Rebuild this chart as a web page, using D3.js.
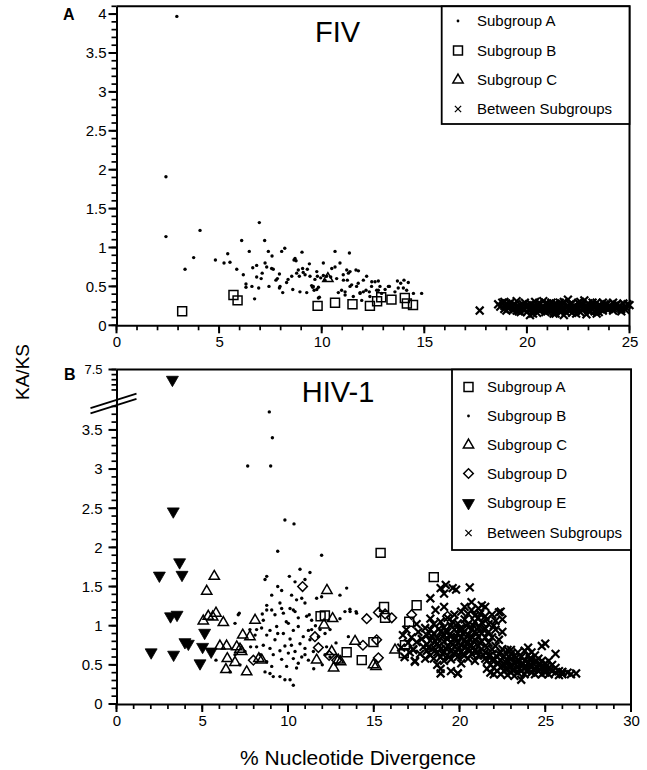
<!DOCTYPE html>
<html><head><meta charset="utf-8">
<script src="https://cdn.jsdelivr.net/npm/d3@7"></script>
<style>body{margin:0;background:#fff}svg{display:block;font-family:"Liberation Sans",Arial,Helvetica,sans-serif}</style>
</head><body><svg id="c" width="647" height="770"></svg>
<script>
// ---------------- DATA ----------------
// Panel A : FIV
const fivXTicks = [0, 5, 10, 15, 20, 25];
const fivYTicks = [0, 0.5, 1, 1.5, 2, 2.5, 3, 3.5, 4];
const fivLegend = ["Subgroup A", "Subgroup B", "Subgroup C", "Between Subgroups"];
const fivSubA = [
[2.94,3.97],[2.41,1.91],[2.41,1.14],[3.34,0.72],[3.76,0.87],[4.07,1.22],[4.82,0.84],[5.24,0.80],[5.42,0.92],[5.53,0.81],[5.86,0.72],[6.10,1.09],[6.18,0.65],[6.31,0.53],[6.31,0.49],[6.47,0.95],[6.60,0.50],[6.64,0.74],[6.83,0.77],[6.73,0.34],[6.83,0.62],[6.93,0.48],[6.96,1.32],[7.05,0.60],[7.10,0.67],[7.22,1.09],[7.24,0.80],[7.32,0.75],[7.43,0.50],[7.40,0.95],[7.58,0.89],[7.56,0.73],[7.64,0.72],[7.77,0.58],[7.84,0.60],[7.94,0.66],[7.94,0.48],[7.97,0.50],[8.05,0.95],[8.10,0.42],[8.20,0.99],[8.29,0.55],[8.36,0.59],[8.54,0.63],[8.59,0.46],[8.65,0.84],[8.70,0.86],[8.75,0.83],[8.78,0.67],[8.86,0.71],[8.91,0.63],[8.94,0.43],[9.04,0.94],[9.07,0.73],[9.10,0.68],[9.19,0.65],[9.27,0.42],[9.30,0.72],[9.40,0.79],[9.43,0.63],[9.51,0.51],[9.56,0.49],[9.63,0.45],[9.67,0.59],[9.76,0.69],[9.79,0.63],[9.84,0.49],[9.89,0.36],[9.95,0.61],[10.08,0.64],[10.16,0.58],[10.24,0.63],
[10.08,0.80],[10.44,0.62],[10.65,0.75],[10.65,0.95],[10.73,0.60],[10.89,0.80],[10.97,0.45],[11.06,0.58],[11.14,0.39],[11.25,0.58],[11.35,0.93],[11.38,0.69],[11.46,0.52],[11.54,0.37],[11.67,0.71],[11.70,0.50],[11.78,0.54],[11.87,0.41],[11.95,0.32],[12.03,0.58],[12.16,0.45],[12.19,0.63],[12.35,0.37],[12.43,0.50],[12.60,0.56],[12.68,0.45],[12.84,0.50],[12.92,0.41],[13.25,0.50],
[10.49,0.73],[11.05,0.65],[11.22,0.71],[11.30,0.67],[11.79,0.70],[12.44,0.56],[12.76,0.57],[13.30,0.50],[13.69,0.57],[13.85,0.54],[14.01,0.58],[14.22,0.55],[13.73,0.48],[14.14,0.45],[14.47,0.41],[14.87,0.41],[11.38,0.50],[11.14,0.43],[12.03,0.43],[12.32,0.43],[10.81,0.42],[9.76,0.46],[9.59,0.50],[9.84,0.35],[12.76,0.45],[13.09,0.46],[13.57,0.43],[13.98,0.48],[11.87,0.42]
];
const fivSubB = [[3.2,0.18],[5.7,0.39],[5.9,0.32],[9.8,0.25],[10.65,0.29],[11.5,0.27],[12.35,0.25],[12.7,0.31],[12.9,0.36],[13.4,0.33],[14.05,0.35],[14.15,0.28],[14.45,0.26]];
const fivSubC = [[10.3,0.60]];
const fivBetween = [
[17.7,0.19],[18.6,0.27],[18.8,0.29],[18.9,0.25],[19.0,0.28],[19.1,0.22],[19.2,0.25],[19.3,0.20],[19.4,0.27],[19.5,0.23],[19.6,0.18],[19.7,0.26],[19.8,0.21],[19.9,0.29],[20.0,0.24],[20.0,0.17],[20.1,0.21],[20.2,0.27],[20.3,0.19],[20.3,0.24],[20.4,0.30],[20.5,0.22],[20.5,0.16],[20.6,0.26],[20.7,0.20],[20.8,0.31],[20.8,0.24],[20.9,0.17],[21.0,0.22],[21.0,0.28],[21.1,0.19],[21.2,0.25],[21.3,0.21],[21.3,0.15],[21.4,0.28],[21.5,0.23],[21.6,0.18],[21.6,0.26],[21.7,0.21],[21.8,0.30],[21.9,0.24],[21.9,0.17],[22.0,0.20],[22.1,0.27],[22.2,0.22],[22.2,0.16],[22.3,0.25],[22.4,0.19],[22.5,0.29],[22.5,0.23],[22.6,0.17],[22.7,0.26],[22.8,0.21],[22.8,0.32],[22.9,0.24],[23.0,0.19],[23.0,0.28],[23.1,0.22],[23.2,0.26],[23.3,0.18],[23.3,0.23],[23.4,0.29],[23.5,0.21],[23.6,0.25],[23.7,0.19],[23.8,0.23],[23.9,0.27],[24.0,0.21],[24.1,0.24],[24.2,0.19],[24.3,0.23],[24.5,0.25],[24.6,0.21],[24.2,0.29],[24.8,0.24],[24.9,0.27],[20.15,0.13],[21.8,0.13],[22.9,0.14],[19.5,0.31],[22.0,0.33],[18.7,0.24],
[19.0,0.19],[19.4,0.21],[19.8,0.27],[20.2,0.20],[20.6,0.19],[21.0,0.18],[21.4,0.20],[21.8,0.22],[22.2,0.28],[22.6,0.24],[23.0,0.23],[23.4,0.19],[23.8,0.27],[24.2,0.22],[24.6,0.18],[24.4,0.27],[23.6,0.21],[22.4,0.22],[21.2,0.29],[20.0,0.26],[19.6,0.24],[19.2,0.29],[18.9,0.21],[20.9,0.21],[22.1,0.19],[23.5,0.26],[24.0,0.25],[24.7,0.28],[25.0,0.26],[19.7,0.22],
[19.1,0.26],[19.3,0.24],[19.5,0.19],[19.9,0.20],[20.1,0.26],[20.4,0.21],[20.7,0.23],[20.9,0.28],[21.1,0.23],[21.5,0.26],[21.7,0.18],[22.0,0.25],[22.3,0.21],[22.7,0.21],[23.1,0.18],[23.2,0.29],[23.5,0.17],[23.9,0.21],[24.3,0.26],[24.8,0.20],[20.6,0.29],[21.6,0.29],[22.6,0.30],[23.7,0.29],[18.9,0.30],[19.7,0.17],[20.3,0.15],[21.4,0.15],[22.4,0.15],[23.4,0.15]
];

// Panel B : HIV-1
const hivXTicks = [0, 5, 10, 15, 20, 25, 30];
const hivYTicks = [0, 0.5, 1, 1.5, 2, 2.5, 3, 3.5];
const hivYTicksUpper = [7.5];
const hivLegend = ["Subgroup A", "Subgroup B", "Subgroup C", "Subgroup D", "Subgroup E", "Between Subgroups"];
const hivSubA = [[15.4,1.93],[18.5,1.62],[15.6,1.24],[17.5,1.26],[17.07,1.05],[16.75,0.65],[14.98,0.79],[14.30,0.56],[13.42,0.66],[11.9,1.12],[12.15,1.13],[15.66,1.10],[16.82,0.75],[19.64,0.94]];
const hivSubB = [
[8.91,3.73],[9.09,3.40],[7.65,3.04],[8.99,3.04],[9.82,2.35],[10.35,2.30],[9.40,1.95],[11.96,1.90],[10.70,1.72],[11.28,1.68],[8.76,1.63],[8.66,1.59],[10.08,1.63],[10.41,1.56],[10.99,1.59],[9.40,1.50],[9.63,1.45],[13.42,1.48],[9.05,1.39],[11.67,1.35],[11.96,1.37],[10.21,1.39],[10.50,1.33],[10.80,1.35],[10.99,1.29],[13.03,1.39],[8.76,1.26],[9.53,1.29],[10.12,1.22],[10.41,1.18],[9.05,1.20],[7.16,1.16],[13.61,1.21],[13.97,1.18],[13.32,1.18],[6.91,1.03],[8.56,1.07],[8.76,1.20],[9.24,1.14],[9.63,1.22],[9.73,1.16],[10.31,1.20],[11.09,1.12],[11.38,1.07],[11.24,1.14],[13.03,1.09],[8.17,0.95],[8.46,0.97],[8.76,0.88],[8.95,0.94],[9.34,0.99],[9.73,0.90],[10.02,1.03],[10.31,0.94],[10.60,0.99],[10.89,0.86],[11.19,0.94],[11.38,0.95],[11.87,0.95],[12.16,0.90],[12.45,0.95],[13.52,0.86],[8.56,0.75],[8.95,0.71],[9.24,0.82],[9.53,0.68],[9.82,0.74],[10.12,0.83],[10.41,0.67],[10.70,0.77],[10.99,0.71],[11.28,0.82],[11.48,0.67],[9.14,0.63],[9.63,0.57],[10.02,0.65],[10.31,0.58],[10.60,0.52],[10.99,0.63],[11.19,0.56],[8.76,0.54],[9.05,0.48],[8.95,0.39],[9.14,0.35],[9.53,0.35],[9.82,0.31],[10.12,0.31],[10.31,0.24],[8.66,0.41],[9.92,0.48],[10.50,0.46],[10.80,0.60],[8.17,0.73],[8.37,0.63],[12.16,0.63],[12.45,0.60],[12.25,0.73],[11.77,0.86],[7.82,0.73],[7.49,0.67],[7.20,0.50],[6.62,0.41],[6.91,0.63],[7.78,0.95],[8.08,0.88],[7.10,1.14],[5.80,0.56],[13.62,1.18],[14.0,1.16],[8.50,1.15],[9.9,1.05],[10.6,1.10],[11.6,1.0],[12.8,0.78],[12.0,0.50],[11.5,0.45],[9.4,0.90],[10.2,0.75]
];
const hivSubC = [[5.70,1.63],[5.26,1.44],[5.06,1.06],[5.35,1.12],[5.80,1.16],[5.61,1.11],[6.23,1.04],[6.03,0.74],[6.42,0.74],[7.01,0.73],[6.46,0.58],[6.91,0.53],[6.38,0.44],[8.08,1.07],[7.36,0.88],[7.78,0.86],[7.20,0.70],[7.30,0.67],[7.59,0.41],[8.47,0.56],[12.27,1.45],[12.6,1.09],[12.1,1.01],[11.67,0.56],[12.66,0.46],[12.93,0.56],[13.91,0.80],[12.55,0.67],[13.07,0.54],[14.98,0.50],[15.13,0.48],[16.24,0.69],[8.3,0.58]];
const hivSubD = [[10.85,1.50],[7.98,0.56],[11.57,0.86],[11.77,0.72],[14.59,1.09],[15.27,1.17],[14.37,0.75],[15.17,0.82],[15.27,0.59],[12.84,0.56],[16.05,1.10],[15.66,1.15],[17.21,1.14],[19.3,1.12],[12.4,0.62]];
const hivSubE = [[3.26,7.3],[3.31,2.46],[2.50,1.64],[3.68,1.81],[3.82,1.65],[3.15,1.12],[3.53,1.14],[2.02,0.66],[3.33,0.63],[3.99,0.79],[4.19,0.77],[5.14,0.91],[5.02,0.73],[5.52,0.67],[4.87,0.52]];
const hivBetween = [
[16.6,0.72],[16.7,0.88],[16.8,0.60],[16.9,0.95],[17.0,0.78],[17.1,0.66],[17.2,0.85],[17.3,0.70],[17.4,0.55],[17.5,1.02],[17.5,0.79],[17.6,0.92],[17.7,0.64],[17.8,0.83],[17.9,0.73],[18.0,0.97],[18.0,0.58],[18.3,1.35],[18.3,1.09],[18.9,1.48],[19.2,1.52],[19.6,1.48],[19.1,1.41],[19.8,1.46],[20.6,1.49],[19.1,1.24],[18.6,1.20],
[18.1,0.68],[18.1,0.88],[18.1,0.76],[18.3,0.62],[18.3,0.81],[18.3,0.95],[18.5,0.72],[18.5,0.90],[18.5,0.58],[18.5,1.02],[18.7,0.66],[18.7,0.84],[18.7,0.77],[18.7,0.50],[18.9,0.92],[18.9,0.70],[18.9,0.60],[18.9,1.05],[18.9,0.45],[19.1,0.80],[19.1,0.66],[19.1,0.98],[19.1,0.88],[19.1,0.55],[19.3,0.74],[19.3,0.92],[19.3,0.62],[19.3,1.10],[19.3,0.83],[19.5,0.68],[19.5,0.86],[19.5,0.79],[19.5,1.00],[19.5,0.57],[19.5,0.42],[19.7,0.95],[19.7,0.73],[19.7,0.64],[19.7,0.84],[19.7,1.14],[19.9,0.78],[19.9,0.90],[19.9,0.60],[19.9,1.03],[19.9,0.70],[19.9,0.39],[20.1,0.85],[20.1,0.67],[20.1,0.97],[20.1,1.18],[20.1,0.75],[20.1,0.52],[20.3,0.72],[20.3,0.93],[20.3,1.08],[20.3,0.62],[20.3,0.82],[20.3,1.24],[20.5,0.88],[20.5,0.70],[20.5,1.02],[20.5,0.58],[20.5,1.15],[20.5,0.78],[20.7,0.95],[20.7,0.75],[20.7,1.20],[20.7,0.64],[20.7,0.86],[20.7,1.30],[20.9,0.82],[20.9,1.05],[20.9,0.68],[20.9,0.92],[20.9,1.13],[20.9,0.55],[21.1,0.98],[21.1,0.74],[21.1,1.22],[21.1,0.86],[21.1,0.62],[21.1,1.10],[21.3,0.90],[21.3,1.04],[21.3,0.70],[21.3,1.26],[21.3,0.80],[21.5,0.85],[21.5,1.12],[21.5,0.66],[21.5,0.96],[21.5,1.24],[21.5,0.58],[21.7,0.78],[21.7,1.02],[21.7,0.62],[21.7,0.92],[21.9,0.70],[21.9,1.14],[21.9,0.85],[21.9,0.56],[22.1,0.95],[22.1,0.74],[22.1,1.06],[22.3,1.17],[22.3,0.82],[22.3,0.64],[22.5,0.92],[22.5,1.08],[22.5,0.70],[22.4,1.18],
[21.6,0.45],[21.6,0.55],[21.8,0.50],[21.8,0.40],[21.8,0.62],[22.0,0.46],[22.0,0.58],[22.0,0.38],[22.2,0.52],[22.2,0.42],[22.2,0.60],[22.4,0.47],[22.4,0.56],[22.4,0.38],[22.4,0.66],[22.6,0.50],[22.6,0.42],[22.6,0.61],[22.8,0.45],[22.8,0.55],[22.8,0.37],[22.8,0.69],[23.0,0.48],[23.0,0.58],[23.0,0.40],[23.0,0.64],[23.2,0.52],[23.2,0.44],[23.2,0.61],[23.2,0.36],[23.4,0.47],[23.4,0.56],[23.4,0.40],[23.4,0.66],[23.6,0.50],[23.6,0.42],[23.6,0.60],[23.6,0.31],[23.8,0.46],[23.8,0.55],[23.8,0.38],[23.8,0.68],[24.0,0.52],[24.0,0.44],[24.0,0.62],[24.0,0.72],[24.2,0.48],[24.2,0.57],[24.2,0.40],[24.2,0.66],[24.4,0.45],[24.4,0.54],[24.4,0.38],[24.4,0.62],[24.6,0.50],[24.6,0.42],[24.6,0.58],[24.8,0.46],[24.8,0.55],[24.8,0.38],[24.8,0.74],[25.0,0.44],[25.0,0.52],[25.0,0.40],[25.0,0.77],[25.2,0.46],[25.2,0.38],[25.2,0.55],[25.4,0.42],[25.4,0.50],[25.6,0.64],[25.6,0.40],[25.6,0.46],[25.8,0.42],[25.8,0.37],[26.0,0.41],[26.0,0.38],[26.3,0.40],[26.5,0.38],[26.8,0.39],[18.9,0.39],[19.9,0.39],[17.4,0.54],[17.3,0.69],[23.0,0.69],
[18.2,0.72],[18.4,0.86],[18.6,0.80],[18.8,0.74],[19.0,0.86],[19.2,0.71],[19.4,0.88],[19.6,0.76],[19.8,0.84],[20.0,0.72],[20.2,0.90],[20.4,0.77],[20.6,0.83],[20.8,0.72],[21.0,0.90],[21.2,0.78],[21.4,0.95],[21.6,0.72],[18.4,0.70],[18.8,0.96],[19.2,0.94],[19.6,1.05],[20.0,0.96],[20.4,1.00],[20.8,1.00],[21.2,1.15],[21.6,1.08],[22.0,1.00],[19.0,0.64],[19.4,0.60],[19.8,0.66],[20.2,0.63],[20.6,0.68],[21.0,0.66],[21.4,0.62],
[22.5,0.49],[22.7,0.53],[22.9,0.47],[23.1,0.50],[23.3,0.54],[23.5,0.45],[23.7,0.52],[23.9,0.48],[24.1,0.50],[24.3,0.52],[24.5,0.47],[24.7,0.51],[24.9,0.49],[23.1,0.43],[23.5,0.55],[23.9,0.42],[24.3,0.44],[24.7,0.44],[22.7,0.44],[24.1,0.58],[23.3,0.59],[22.9,0.60],[24.5,0.55],[25.1,0.49],[25.3,0.44]
];

// ---------------- DRAW ----------------
const svg = d3.select("#c");
const FONT = '"Liberation Sans",Arial,Helvetica,sans-serif';

const xA = d3.scaleLinear().domain([0, 25]).range([116.5, 629.5]);
const yA = d3.scaleLinear().domain([0, 4.1]).range([325.3, 6.3]);
const xB = d3.scaleLinear().domain([0, 30]).range([116.5, 631]);
const yB = d3.scaleLinear().domain([0, 3.85, 7.05, 7.5]).range([704, 402.5, 392.5, 369.5]);

const range01 = (a, b, s) => d3.range(Math.round(a / s), Math.round(b / s) + 1).map(i => +(i * s).toFixed(2));

function drawTicks(x, y, xVals, yVals, len, sw) {
  const x0 = x(0), y0 = y(0);
  const g = svg.append("g").attr("class", "ticks");
  xVals.forEach(v => {
    g.append("line").attr("x1", x(v)).attr("x2", x(v)).attr("y1", y0).attr("y2", y0 + len)
      .attr("stroke", "#000").attr("stroke-width", sw);
  });
  yVals.forEach(v => {
    g.append("line").attr("x1", x0).attr("x2", x0 - len).attr("y1", y(v)).attr("y2", y(v))
      .attr("stroke", "#000").attr("stroke-width", sw);
  });
}

function drawAxes(x, y, xMaj, xMin, yMaj, yMin, yPad) {
  const y0 = y(0);
  svg.append("g").attr("transform", `translate(0,${y0})`)
    .call(d3.axisBottom(x).tickValues(xMaj).tickSize(0).tickPadding(11.5).tickFormat(d => d).tickSizeOuter(0))
    .call(g => {
      g.attr("font-family", FONT).attr("font-size", 15);
      g.select(".domain").attr("stroke", "#000").attr("stroke-width", 2);
      g.selectAll(".tick text").attr("fill", "#000");
    });
  svg.append("g").attr("transform", `translate(${x(0)},0)`)
    .call(d3.axisLeft(y).tickValues(yMaj).tickSize(0).tickPadding(yPad).tickFormat(d => String(d)).tickSizeOuter(0))
    .call(g => {
      g.attr("font-family", FONT).attr("font-size", 15);
      g.select(".domain").attr("stroke", "#000").attr("stroke-width", 2);
      g.selectAll(".tick text").attr("fill", "#000");
    });
  drawTicks(x, y, xMin, yMin, 5, 1.7);
  drawTicks(x, y, xMaj, yMaj, 8, 2);
  const [xl, xr] = x.range(); const yr = y.range(); const yt = yr[yr.length - 1];
  svg.append("path").attr("d", `M${xl},${yt}H${xr}V${y0}`).attr("fill", "none").attr("stroke", "#000").attr("stroke-width", 2);
}

drawAxes(xA, yA, fivXTicks, d3.range(0, 26), fivYTicks, range01(0, 4.1, 0.1), 10);
drawAxes(xB, yB, hivXTicks, d3.range(0, 31), hivYTicks.concat(hivYTicksUpper),
  range01(0, 3.8, 0.1).concat(range01(7.1, 7.5, 0.1)), 14);
svg.selectAll("g.tick text").filter(function(){ return this.textContent === "7.5"; }).attr("font-size", 13);

// axis break marks on the HIV-1 y axis
const bx = xB(0), by = (yB(3.85) + yB(7.05)) / 2 + 6;
[-2.6, 2.6].forEach(o => {
  svg.append("line").attr("x1", bx - 26).attr("y1", by + o + 7.3).attr("x2", bx + 20).attr("y2", by + o - 7.3)
    .attr("stroke", "#000").attr("stroke-width", 1.8);
});

// symbol shapes
const shapes = {
  square: d3.symbol().type(d3.symbolSquare).size(80)(),
  tri: d3.symbol().type(d3.symbolTriangle).size(46)(),
  diamond: d3.symbol().type(d3.symbolSquare).size(46)(),
  tdown: d3.symbol().type(d3.symbolTriangle).size(62)(),
  cross: "M-3.9,-3.9L3.9,3.9M-3.9,3.9L3.9,-3.9"
};

function drawMark(g, kind, px, py, r, legendMark) {
  if (kind === "dot") {
    g.append("circle").attr("cx", px).attr("cy", py).attr("r", r || 1.7).attr("fill", "#000");
    return;
  }
  const p = g.append("path").attr("d", shapes[kind]);
  let tr = `translate(${px},${py})`;
  if (kind === "diamond") tr += " rotate(45)";
  if (kind === "tdown") tr += " rotate(180)";
  if (kind === "cross" && legendMark) tr += " scale(0.8)";
  p.attr("transform", tr);
  if (kind === "tdown") p.attr("fill", "#000").attr("stroke", "#000").attr("stroke-width", 0.8);
  else if (kind === "cross") p.attr("fill", "none").attr("stroke", "#000").attr("stroke-width", legendMark ? 1.6 : 2.2);
  else p.attr("fill", "none").attr("stroke", "#000").attr("stroke-width", 1.5);
}

function plot(data, kind, x, y) {
  const g = svg.append("g");
  data.forEach(d => drawMark(g, kind, x(d[0]), y(d[1])));
}

// Panel A
plot(fivBetween, "cross", xA, yA);
plot(fivSubA, "dot", xA, yA);
plot(fivSubB, "square", xA, yA);
plot(fivSubC, "tri", xA, yA);
// Panel B
plot(hivSubB, "dot", xB, yB);
plot(hivSubC, "tri", xB, yB);
plot(hivSubD, "diamond", xB, yB);
plot(hivSubA, "square", xB, yB);
plot(hivSubE, "tdown", xB, yB);
plot(hivBetween, "cross", xB, yB);

// legends
function legend(x0, y0, x1, y1, items, kinds, rows, symX, txtX) {
  svg.append("rect").attr("x", x0).attr("y", y0).attr("width", x1 - x0).attr("height", y1 - y0)
    .attr("fill", "#fff").attr("stroke", "#000").attr("stroke-width", 1.8);
  const g = svg.append("g");
  items.forEach((t, i) => {
    drawMark(g, kinds[i], symX, rows[i], 1.4, true);
    g.append("text").attr("x", txtX).attr("y", rows[i]).attr("dy", "0.36em")
      .attr("font-family", FONT).attr("font-size", 15).attr("fill", "#000").text(t);
  });
}
legend(441.7, yA(4.1), xA(25), 124, fivLegend, ["dot", "square", "tri", "cross"], [21, 50.5, 80, 109], 458, 477);
legend(452, yB(7.5), xB(30), 550, hivLegend, ["square", "dot", "tri", "diamond", "tdown", "cross"], [387, 416, 445, 473.5, 503, 533], 468.5, 487);

// titles & labels
svg.append("text").attr("x", 337.5).attr("y", 42).attr("text-anchor", "middle").attr("font-family", FONT).attr("font-size", 29).text("FIV");
svg.append("text").attr("x", 338).attr("y", 402).attr("text-anchor", "middle").attr("font-family", FONT).attr("font-size", 29).text("HIV-1");
svg.append("text").attr("x", 63).attr("y", 20).attr("font-family", FONT).attr("font-size", 16).attr("font-weight", "bold").text("A");
svg.append("text").attr("x", 64).attr("y", 380).attr("font-family", FONT).attr("font-size", 16).attr("font-weight", "bold").text("B");
svg.append("text").attr("x", 358).attr("y", 765).attr("text-anchor", "middle").attr("font-family", FONT).attr("font-size", 21).text("% Nucleotide Divergence");
svg.append("text").attr("transform", "translate(22,372) rotate(-90)").attr("text-anchor", "middle").attr("dominant-baseline", "central")
  .attr("font-family", FONT).attr("font-size", 19).text("KA/KS");
</script></body></html>
